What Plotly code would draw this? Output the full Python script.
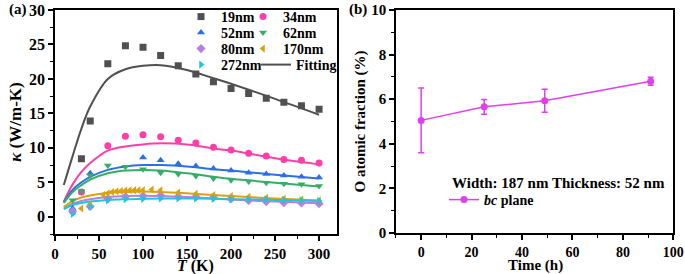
import plotly.graph_objects as go

# ---------------- Panel (a) data ----------------
T_19 = [30, 40, 60, 80, 100, 120, 140, 160, 180, 200, 220, 240, 260, 280, 300]
k_19 = [8.4, 13.9, 22.2, 24.8, 24.6, 23.4, 21.9, 20.7, 19.6, 18.6, 17.9, 17.2, 16.6, 16.1, 15.6]

T_34 = [20, 30, 60, 80, 100, 120, 140, 160, 180, 200, 220, 240, 260, 280, 300]
k_34 = [0.8, 3.6, 10.3, 11.7, 11.9, 11.6, 11.1, 10.7, 10.1, 9.7, 9.2, 8.8, 8.3, 8.2, 7.8]

T_52 = [20, 40, 100, 120, 140, 160, 180, 200, 220, 240, 260, 280, 300]
k_52 = [1.2, 6.3, 8.6, 8.2, 7.7, 7.35, 7.0, 6.7, 6.4, 6.2, 6.0, 5.8, 5.7]

T_62 = [20, 30, 40, 60, 80, 100, 120, 140, 160, 180, 200, 220, 240, 260, 280, 300]
k_62 = [2.4, 3.7, 6.0, 7.45, 7.25, 6.9, 6.4, 6.2, 5.9, 5.55, 5.3, 5.1, 4.95, 4.8, 4.7, 4.45]

T_80 = [20, 40, 60, 80, 100, 120, 140, 160, 180, 200, 220, 240, 260, 280, 300]
k_80 = [0.8, 1.5, 2.6, 2.9, 3.0, 3.1, 2.95, 2.9, 2.8, 2.6, 2.35, 2.2, 2.05, 2.0, 1.9]

T_170 = [30, 40, 55, 60, 65, 70, 75, 80, 85, 90, 95, 100, 110, 120, 140, 160, 180, 200, 220, 240, 260, 280, 300]
k_170 = [1.2, 1.8, 3.2, 3.4, 3.6, 3.7, 3.75, 3.8, 3.85, 3.85, 3.85, 3.85, 3.95, 3.85, 3.5, 3.35, 3.15, 3.0, 2.9, 2.75, 2.6, 2.5, 2.4]

T_272 = [20, 40, 60, 80, 100, 120, 140, 160, 180, 200, 220, 240, 260, 280, 300]
k_272 = [0.4, 1.5, 2.35, 2.55, 2.6, 2.65, 2.65, 2.65, 2.6, 2.55, 2.55, 2.5, 2.45, 2.4, 2.3]

# fitting curves
T_fit = [10, 20, 30, 40, 60, 80, 100, 120, 150, 180, 200, 250, 300]
fit_19 = [4.6, 8.8, 12.8, 16.0, 20.0, 21.4, 21.9, 22.0, 21.3, 20.1, 19.3, 17.1, 14.8]
fit_34 = [2.2, 4.7, 6.5, 7.8, 9.6, 10.2, 10.5, 10.65, 10.5, 9.9, 9.6, 8.5, 7.6]
fit_52 = [2.1, 3.9, 5.0, 5.8, 6.8, 7.3, 7.5, 7.5, 7.3, 6.9, 6.7, 6.1, 5.55]
fit_62 = [2.0, 3.6, 4.6, 5.4, 6.3, 6.7, 6.8, 6.7, 6.3, 5.8, 5.5, 4.95, 4.4]
fit_80 = [1.2, 1.9, 2.3, 2.55, 2.85, 3.0, 3.05, 3.0, 2.85, 2.65, 2.5, 2.2, 1.95]
fit_170 = [1.4, 2.3, 2.8, 3.1, 3.45, 3.6, 3.65, 3.6, 3.4, 3.15, 3.0, 2.65, 2.35]
fit_272 = [1.1, 1.7, 2.0, 2.2, 2.45, 2.55, 2.6, 2.65, 2.65, 2.6, 2.55, 2.45, 2.3]

# ---------------- Panel (b) data ----------------
time_h = [0, 25, 49, 91]
o_frac = [5.05, 5.66, 5.93, 6.81]
o_err = [1.45, 0.33, 0.52, 0.18]

C_GRAY = "#505050"
C_PINK = "#ff3fa8"
C_BLUE = "#2a6fe6"
C_GREEN = "#35ad68"
C_PURPLE = "#b67fe3"
C_GOLD = "#d9a30f"
C_CYAN = "#1fc6d9"
C_MAG = "#e03ef0"

FONT = "Liberation Serif"
W, H = 685, 274

fig = go.Figure()

# (name, T, k, fit, colour, symbol, legend id, legend x px, legend y px)
series = [
    ("19nm", T_19, k_19, fit_19, C_GRAY, "square", "legend", 181, 17),
    ("34nm", T_34, k_34, fit_34, C_PINK, "circle", "legend2", 243, 17),
    ("52nm", T_52, k_52, fit_52, C_BLUE, "triangle-up", "legend3", 181, 33),
    ("62nm", T_62, k_62, fit_62, C_GREEN, "triangle-down", "legend4", 243, 33),
    ("80nm", T_80, k_80, fit_80, C_PURPLE, "diamond", "legend5", 181, 49),
    ("170nm", T_170, k_170, fit_170, C_GOLD, "triangle-left", "legend6", 243, 49),
    ("272nm", T_272, k_272, fit_272, C_CYAN, "triangle-right", "legend7", 181, 65),
]

for s in series:
    name, T, k, fit, col = s[:5]
    fig.add_trace(go.Scatter(
        x=T_fit, y=fit, mode="lines", line=dict(color=col, width=2, shape="spline"),
        showlegend=False, xaxis="x", yaxis="y", hoverinfo="skip"))

legend_defs = {}
LEG_FONT = dict(family=FONT, size=14, weight="bold", color="black")
for s in series:
    name, T, k, fit, col, sym, lg, lx, ly = s
    fig.add_trace(go.Scatter(
        x=T, y=k, mode="markers", name=name, legend=lg,
        marker=dict(symbol=sym, size=7, color=col, line=dict(width=0)),
        xaxis="x", yaxis="y"))
    legend_defs[lg] = dict(x=lx / W, y=1 - ly / H, xanchor="left", yanchor="middle",
                           bgcolor="rgba(0,0,0,0)", font=LEG_FONT, itemwidth=30)

# legend entry for "Fitting"
fig.add_trace(go.Scatter(
    x=[None], y=[None], mode="lines", name="Fitting", legend="legend8",
    line=dict(color=C_GRAY, width=2), xaxis="x", yaxis="y"))
legend_defs["legend8"] = dict(x=256 / W, y=1 - 65 / H, xanchor="left", yanchor="middle",
                              bgcolor="rgba(0,0,0,0)", font=LEG_FONT, itemwidth=30)

# panel (b)
fig.add_trace(go.Scatter(
    x=time_h, y=o_frac, mode="lines+markers", name="<i>bc</i> plane", legend="legend9",
    line=dict(color=C_MAG, width=1.5),
    marker=dict(symbol="circle", size=7, color=C_MAG),
    error_y=dict(type="data", array=o_err, visible=True, color=C_MAG, thickness=1.5, width=3),
    xaxis="x2", yaxis="y2"))
legend_defs["legend9"] = dict(x=444 / W, y=1 - 200 / H, xanchor="left", yanchor="middle",
                              bgcolor="rgba(0,0,0,0)", font=LEG_FONT, itemwidth=30)


def axis(size, **kw):
    d = dict(
        showline=True, linecolor="black", linewidth=1.5, mirror=True,
        ticks="outside", ticklen=5, tickwidth=1.5, tickcolor="black",
        showgrid=False, zeroline=False, automargin=False,
        tickfont=dict(family=FONT, size=size, color="black", weight="bold"),
    )
    d.update(kw)
    return d


def minor(dt):
    return dict(dtick=dt, tick0=0, ticks="outside", ticklen=3, tickwidth=1.2, tickcolor="black")


fig.update_layout(
    width=W, height=H,
    margin=dict(l=0, r=0, t=0, b=0, autoexpand=False),
    paper_bgcolor="white", plot_bgcolor="white",
    font=dict(family=FONT, color="black"),
    xaxis=axis(15, domain=[0.0803, 0.4915], range=[0, 320],
               tickvals=[0, 50, 100, 150, 200, 250, 300], minor=minor(25), anchor="y"),
    yaxis=axis(16, domain=[0.146, 0.9635], range=[-2.5, 30],
               tickvals=[0, 5, 10, 15, 20, 25, 30], minor=minor(2.5), anchor="x",
               title=dict(text="<i>κ</i> (W/m-K)", font=dict(family=FONT, size=17, weight="bold"),
                          standoff=3)),
    xaxis2=axis(14, domain=[0.578, 0.983], range=[-10, 100],
                tickvals=[0, 20, 40, 60, 80, 100], minor=minor(10), anchor="y2"),
    yaxis2=axis(15, domain=[0.1496, 0.9635], range=[0, 10],
                tickvals=[0, 2, 4, 6, 8, 10], minor=minor(1), anchor="x2",
                title=dict(text="O atomic fraction (%)", font=dict(family=FONT, size=15, weight="bold"),
                           standoff=2)),
    annotations=[
        dict(text="(a)", x=7 / W, y=1 - 10 / H, xref="paper", yref="paper", xanchor="left",
             yanchor="middle", showarrow=False, font=dict(family=FONT, size=15, weight="bold")),
        dict(text="(b)", x=347 / W, y=1 - 10 / H, xref="paper", yref="paper", xanchor="left",
             yanchor="middle", showarrow=False, font=dict(family=FONT, size=15, weight="bold")),
        dict(text="<i>T</i> (K)", x=195 / W, y=1 - 265.5 / H, xref="paper", yref="paper",
             xanchor="center", yanchor="middle", showarrow=False,
             font=dict(family=FONT, size=16, weight="bold")),
        dict(text="Time (h)", x=535 / W, y=1 - 265.5 / H, xref="paper", yref="paper",
             xanchor="center", yanchor="middle", showarrow=False,
             font=dict(family=FONT, size=15, weight="bold")),
        dict(text="Width: 187 nm Thickness: 52 nm", x=450 / W, y=1 - 183 / H, xref="paper",
             yref="paper", xanchor="left", yanchor="middle", showarrow=False,
             font=dict(family=FONT, size=15, weight="bold")),
    ],
    **legend_defs,
)

fig.write_html("out.html", config={"displayModeBar": False},
               post_script="document.body.style.margin='0';")
